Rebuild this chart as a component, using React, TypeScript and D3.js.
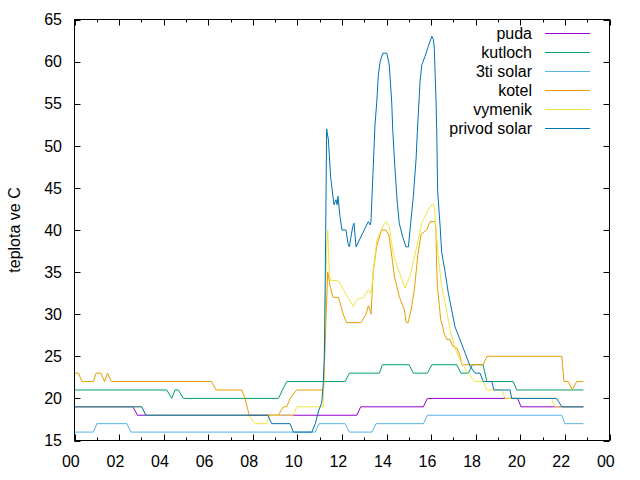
import React from "react";
import * as d3 from "d3";

// Hourly log of temperatures, each series as [hour of day, °C] readings.
const puda: [number, number][] = [
  [0, 19], [2.62, 19], [2.83, 18], [12.66, 18], [12.84, 19], [15.65, 19], [15.83, 20],
  [19.88, 20], [20.03, 19], [22.83, 19],
];

const kutloch: [number, number][] = [
  [0, 21], [4.14, 21], [4.36, 20], [4.51, 21], [4.66, 21], [4.88, 20], [9.15, 20],
  [9.33, 21], [9.52, 22], [12.14, 22], [12.33, 23], [13.68, 23], [13.81, 24], [15.01, 24],
  [15.2, 23], [15.83, 23], [16.03, 24], [17.15, 24], [17.33, 23], [17.67, 23], [17.85, 24],
  [18.33, 24], [18.5, 22], [19.68, 22], [19.84, 21], [22.83, 21],
];

const tretiSolar: [number, number][] = [
  [0, 16], [0.85, 16], [1.0, 17], [2.35, 17], [2.53, 16], [10.8, 16], [10.97, 17],
  [12.14, 17], [12.33, 16], [13.34, 16], [13.53, 17], [15.65, 17], [15.83, 18],
  [21.86, 18], [22.0, 17], [22.83, 17],
];

const kotel: [number, number][] = [
  [0, 23], [0.18, 23], [0.33, 22], [0.85, 22], [0.97, 23], [1.18, 23], [1.35, 22],
  [1.48, 23], [1.65, 22], [6.15, 22], [6.35, 21], [7.5, 21], [7.65, 20], [7.84, 18],
  [9.14, 18], [9.37, 19], [9.52, 19], [9.67, 20], [9.97, 21], [11.17, 21], [11.24, 26],
  [11.29, 30], [11.36, 35], [11.47, 33.3], [11.6, 32], [11.84, 32], [11.95, 31],
  [12.05, 30], [12.2, 29], [12.85, 29], [13.08, 30], [13.18, 31], [13.26, 30.5],
  [13.3, 30], [13.4, 35], [13.55, 38], [13.77, 40], [13.96, 40], [14.1, 39.4],
  [14.2, 37.6], [14.35, 34.5], [14.58, 32], [14.8, 30.5], [14.88, 29], [14.97, 29],
  [15.1, 30.5], [15.25, 33], [15.4, 37], [15.55, 39.5], [15.8, 40], [15.95, 41],
  [16.17, 41], [16.22, 40], [16.24, 36], [16.28, 33.3], [16.37, 30.9], [16.43, 29.3],
  [16.52, 28.5], [16.58, 27.7], [16.7, 27], [16.84, 27], [16.97, 26.2], [17.15, 26],
  [17.3, 25], [17.37, 24], [18.34, 24], [18.5, 25], [21.86, 25], [21.96, 22],
  [22.15, 22], [22.33, 21], [22.53, 22], [22.83, 22],
];

const vymenik: [number, number][] = [
  [0, 19], [3.02, 19], [3.2, 18], [7.8, 18], [8.1, 17], [8.62, 17], [8.77, 18],
  [9.82, 18], [9.97, 19], [11.16, 19], [11.2, 25], [11.3, 37], [11.36, 40],
  [11.43, 35], [11.5, 34], [11.68, 34], [11.88, 33.9], [12.06, 32.9], [12.33, 31.7],
  [12.51, 30.9], [12.66, 31.7], [12.78, 31.9], [12.96, 31.9], [13.08, 32.5],
  [13.18, 32.9], [13.26, 32.5], [13.33, 32.9], [13.41, 35.3], [13.56, 38.8],
  [13.83, 40.4], [13.97, 41], [14.12, 40.4], [14.23, 38.4], [14.33, 36.8],
  [14.48, 35.7], [14.83, 33.1], [15.05, 34.5], [15.35, 38], [15.58, 40.8],
  [15.87, 42.4], [16.03, 43], [16.13, 43], [16.22, 40], [16.32, 36.8], [16.47, 33.3],
  [16.7, 30.3], [16.85, 28.1], [17.0, 26.6], [17.15, 25.4], [17.37, 24.2],
  [17.6, 23.2], [17.89, 22.2], [18.01, 22], [18.34, 22], [18.49, 21], [19.17, 21],
  [19.31, 20], [21.4, 20], [21.55, 19], [22.83, 19],
];

const privodSolar: [number, number][] = [
  [0, 19], [3.02, 19], [3.2, 18], [8.67, 18], [8.85, 17], [9.67, 17], [9.82, 16],
  [10.65, 16], [10.8, 17], [10.95, 18.5], [11.09, 19.5], [11.16, 21.8], [11.21, 25],
  [11.24, 32.3], [11.27, 40], [11.31, 52], [11.39, 50.7], [11.49, 46.3], [11.64, 43],
  [11.73, 43.6], [11.78, 43], [11.82, 44], [11.91, 41.6], [12.0, 40], [12.18, 40],
  [12.27, 38.4], [12.33, 38], [12.48, 40.4], [12.54, 40.8], [12.63, 38], [13.18, 41],
  [13.26, 40.6], [13.3, 41], [13.48, 52.5], [13.56, 55.2], [13.63, 58.4], [13.71, 60],
  [13.83, 61], [14.01, 61], [14.12, 59.6], [14.23, 55.2], [14.28, 51.7], [14.38, 47.1],
  [14.48, 43.2], [14.57, 40.8], [14.72, 39.2], [14.87, 38], [14.98, 38], [15.05, 40],
  [15.2, 44], [15.32, 48.3], [15.38, 51.7], [15.5, 57.6], [15.58, 59.6], [15.72, 60.6],
  [15.87, 61.8], [16.03, 63], [16.1, 62.6], [16.14, 61.6], [16.22, 55.2], [16.25, 51.7],
  [16.29, 44.7], [16.4, 40.5], [16.47, 37.4], [16.62, 35.1], [16.77, 32.5],
  [16.92, 30.5], [17.07, 28.5], [17.29, 27], [17.52, 25.4], [17.75, 23.8], [17.97, 23],
  [18.19, 23], [18.34, 22], [18.72, 22], [18.82, 21], [19.54, 21], [19.61, 20],
  [21.63, 20], [21.86, 19], [22.83, 19],
];

const seriesNames = ["puda", "kutloch", "3ti solar", "kotel", "vymenik", "privod solar"];
const seriesData = [puda, kutloch, tretiSolar, kotel, vymenik, privodSolar];
const seriesColors = ["#9400d3", "#009e73", "#56b4e9", "#e69f00", "#f0e442", "#0072b2"];

const yTicks = [15, 20, 25, 30, 35, 40, 45, 50, 55, 60, 65];
const xMajorTicks = [0, 2, 4, 6, 8, 10, 12, 14, 16, 18, 20, 22, 24];
const xMinorTicks = [1, 3, 5, 7, 9, 11, 13, 15, 17, 19, 21, 23];
const yAxisLabel = "teplota ve C";

const W = 640;
const H = 480;
const left = 74.5;
const right = 609.5;
const top = 19.5;
const bottom = 440.5;
const font = "'Liberation Sans', Arial, sans-serif";

export default function App() {
  const x = d3.scaleLinear().domain([0, 24]).range([left, right]);
  const y = d3.scaleLinear().domain([15, 65]).range([bottom, top]);
  const line = d3
    .line<[number, number]>()
    .x((d) => x(d[0]))
    .y((d) => y(d[1]));

  const hourLabel = (h: number) => String(h % 24).padStart(2, "0");

  return (
    <svg
      width={W}
      height={H}
      viewBox={`0 0 ${W} ${H}`}
      style={{ position: "absolute", left: 0, top: 0, background: "#fff" }}
      fontFamily={font}
      fontSize={16}
    >
      <rect x={0} y={0} width={W} height={H} fill="#fff" />

      {/* ticks on all four sides */}
      <g stroke="#000" strokeWidth={1}>
        {yTicks.map((t) => (
          <g key={`yt${t}`}>
            <line x1={left} x2={left + 6} y1={Math.round(y(t)) + 0.5} y2={Math.round(y(t)) + 0.5} />
            <line x1={right - 6} x2={right} y1={Math.round(y(t)) + 0.5} y2={Math.round(y(t)) + 0.5} />
          </g>
        ))}
        {xMajorTicks.map((t) => (
          <g key={`xM${t}`}>
            <line x1={Math.round(x(t)) + 0.5} x2={Math.round(x(t)) + 0.5} y1={bottom} y2={bottom - 6} />
            <line x1={Math.round(x(t)) + 0.5} x2={Math.round(x(t)) + 0.5} y1={top} y2={top + 6} />
          </g>
        ))}
        {xMinorTicks.map((t) => (
          <g key={`xm${t}`}>
            <line x1={Math.round(x(t)) + 0.5} x2={Math.round(x(t)) + 0.5} y1={bottom} y2={bottom - 3} />
            <line x1={Math.round(x(t)) + 0.5} x2={Math.round(x(t)) + 0.5} y1={top} y2={top + 3} />
          </g>
        ))}
      </g>

      {/* data lines */}
      <g fill="none" strokeWidth={1} strokeLinejoin="miter">
        {seriesData.map((d, i) => (
          <path key={seriesNames[i]} d={line(d) ?? ""} stroke={seriesColors[i]} />
        ))}
      </g>

      {/* plot border */}
      <rect
        x={left}
        y={top}
        width={right - left}
        height={bottom - top}
        fill="none"
        stroke="#000"
        strokeWidth={1}
      />

      {/* tick labels */}
      <g fill="#000">
        {yTicks.map((t) => (
          <text key={`yl${t}`} x={62} y={y(t) + 5.7} textAnchor="end">
            {t}
          </text>
        ))}
        {xMajorTicks.map((t) => (
          <text key={`xl${t}`} x={x(t) - 3.7} y={466.5} textAnchor="middle">
            {hourLabel(t)}
          </text>
        ))}
      </g>

      {/* axis title */}
      <text
        transform={`translate(19.5, ${(top + bottom) / 2}) rotate(-90)`}
        textAnchor="middle"
        fill="#000"
      >
        {yAxisLabel}
      </text>

      {/* legend */}
      <g>
        {seriesNames.map((name, i) => {
          const ly = 33.5 + i * 19;
          return (
            <g key={`lg${name}`}>
              <text x={532} y={ly + 5.7} textAnchor="end" fill="#000">
                {name}
              </text>
              <line x1={545} x2={590} y1={ly} y2={ly} stroke={seriesColors[i]} strokeWidth={1} />
            </g>
          );
        })}
      </g>
    </svg>
  );
}
